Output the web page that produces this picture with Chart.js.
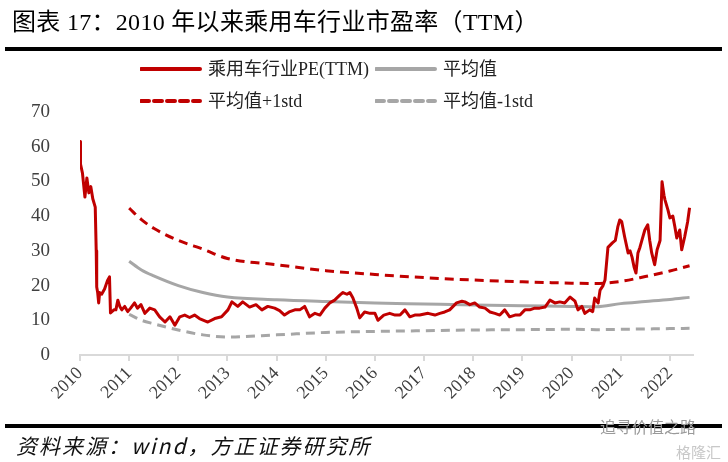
<!DOCTYPE html>
<html>
<head>
<meta charset="utf-8">
<script src="https://cdn.jsdelivr.net/npm/chart.js@4.4.1/dist/chart.umd.min.js"></script>
<style>
  html, body { margin: 0; padding: 0; background: #fff; }
  #wrap { position: relative; width: 728px; height: 462px; overflow: hidden; }
  #chart { position: absolute; left: 0; top: 0; }
  .serif { font-family: "Liberation Serif", "Noto Sans CJK SC", serif; }
  #title { position: absolute; left: 12px; top: 2px; font-size: 24px; color: #000; white-space: nowrap; letter-spacing: 0.3px; }
  .rule { position: absolute; left: 5px; width: 717px; height: 4px; background: #000; }
  .leg { position: absolute; font-size: 18px; color: #222; white-space: nowrap; line-height: 20px; }
  .leg svg { position: absolute; }
  #source { position: absolute; left: 16px; top: 430px; font-size: 21px; font-style: italic; color: #111;
            letter-spacing: 2px; font-family: "Noto Sans CJK SC", sans-serif; white-space: nowrap; }
  #wm1 { position: absolute; left: 600px; top: 414px; font-size: 16px; color: #9a9a9a;
         font-family: "Noto Sans CJK SC", sans-serif; white-space: nowrap; }
  #wm2 { position: absolute; left: 676px; top: 441px; font-size: 15px; color: #c8c8c8;
         font-family: "Noto Sans CJK SC", sans-serif; white-space: nowrap; }
</style>
</head>
<body>
<div id="wrap">
  <canvas id="chart" width="728" height="462"></canvas>
  <div id="title" class="serif">图表 17：2010 年以来乘用车行业市盈率（TTM）</div>
  <div class="rule" style="top:47px"></div>
  <div id="legend"></div>
  <div class="rule" style="top:424px"></div>
  <div id="source">资料来源：wind，方正证券研究所</div>
  <div id="wm1">追寻价值之路</div>
  <div id="wm2">格隆汇</div>
</div>
<script>
// 乘用车行业PE(TTM): dates as decimal years
const peDates = [
  2010.00, 2010.01, 2010.05, 2010.10, 2010.14, 2010.18, 2010.22, 2010.26, 2010.31, 2010.33,
  2010.34, 2010.36, 2010.38, 2010.40, 2010.44, 2010.50, 2010.56, 2010.60, 2010.62, 2010.69,
  2010.73, 2010.77, 2010.81, 2010.85, 2010.91, 2010.97, 2011.03, 2011.11, 2011.17, 2011.24,
  2011.32, 2011.42, 2011.52, 2011.62, 2011.73, 2011.83, 2011.93, 2012.03, 2012.13, 2012.23,
  2012.33, 2012.43, 2012.60, 2012.74, 2012.88, 2013.01, 2013.09, 2013.21, 2013.31, 2013.45,
  2013.58, 2013.70, 2013.82, 2013.96, 2014.06, 2014.16, 2014.27, 2014.37, 2014.47, 2014.57,
  2014.67, 2014.78, 2014.88, 2014.98, 2015.08, 2015.18, 2015.29, 2015.35, 2015.43, 2015.49,
  2015.55, 2015.59, 2015.63, 2015.69, 2015.79, 2015.90, 2016.00, 2016.06, 2016.18, 2016.30,
  2016.41, 2016.51, 2016.61, 2016.71, 2016.81, 2016.91, 2017.08, 2017.22, 2017.32, 2017.42,
  2017.52, 2017.66, 2017.77, 2017.83, 2017.93, 2018.03, 2018.13, 2018.24, 2018.34, 2018.44,
  2018.54, 2018.64, 2018.74, 2018.85, 2018.95, 2019.05, 2019.15, 2019.25, 2019.35, 2019.46,
  2019.56, 2019.66, 2019.76, 2019.86, 2019.97, 2020.07, 2020.13, 2020.21, 2020.27, 2020.37,
  2020.43, 2020.47, 2020.54, 2020.58, 2020.64, 2020.68, 2020.74, 2020.83, 2020.89, 2020.94,
  2020.98, 2021.02, 2021.08, 2021.15, 2021.19, 2021.23, 2021.27, 2021.31, 2021.35, 2021.39,
  2021.43, 2021.49, 2021.55, 2021.59, 2021.63, 2021.69, 2021.74, 2021.80, 2021.84, 2021.88,
  2021.90, 2021.96, 2022.00, 2022.06, 2022.10, 2022.14, 2022.20, 2022.24, 2022.30, 2022.36,
  2022.40
];
const peValues = [
  61.5, 55.0, 52.4, 45.5, 51.0, 46.7, 48.5, 45.0, 42.6, 30.0,
  19.6, 17.9, 15.0, 18.0, 17.5, 19.0, 21.5, 22.5, 12.1, 13.0,
  13.0, 15.8, 14.0, 13.0, 14.0, 12.5, 13.5, 15.0, 13.5, 14.5,
  12.0, 13.5, 13.0, 11.0, 9.5, 11.0, 8.6, 11.0, 11.5, 10.8,
  11.5, 10.5, 9.5, 10.5, 11.0, 13.0, 15.3, 14.0, 15.3, 13.8,
  14.5, 13.0, 14.0, 13.5, 12.8, 11.5, 12.5, 13.0, 13.0, 14.0,
  11.0, 12.0, 11.5, 13.5, 15.0, 15.8, 17.3, 18.0, 17.5, 18.0,
  16.5, 15.0, 13.5, 10.7, 12.4, 12.0, 12.0, 10.0, 11.5, 12.0,
  11.5, 11.5, 13.0, 11.0, 11.5, 11.5, 12.0, 11.5, 12.0, 12.4,
  13.0, 15.0, 15.5, 15.3, 14.5, 15.0, 13.8, 13.5, 12.4, 12.0,
  11.5, 13.0, 11.0, 11.5, 11.5, 13.0, 13.0, 13.5, 13.5, 13.8,
  15.8, 15.0, 15.3, 15.0, 16.7, 15.5, 13.0, 14.0, 12.0, 13.0,
  12.5, 16.4, 15.0, 18.7, 20.0, 21.6, 31.0, 32.3, 33.0, 36.9,
  38.9, 38.4, 34.0, 29.4, 30.0, 28.2, 25.4, 23.6, 29.4, 31.0,
  33.0, 36.0, 37.5, 33.0, 29.4, 26.0, 30.3, 33.0, 49.9, 46.0,
  44.7, 41.8, 39.5, 40.0, 37.0, 33.7, 36.0, 30.3, 34.0, 38.3,
  42.4
];

// 平均值 / ±1std (from 2011)
const bandDates  = [2011.0, 2011.25, 2011.5, 2012.0, 2012.5, 2013.0, 2014.0, 2015.0, 2016.0,
                    2017.0, 2018.0, 2019.0, 2020.0, 2020.5, 2021.0, 2021.5, 2022.0, 2022.4];
const meanValues = [27.0, 24.5, 22.8, 20.0, 18.0, 16.7, 15.9, 15.4, 15.0,
                    14.7, 14.4, 14.2, 14.0, 13.9, 14.8, 15.4, 16.0, 16.6];
const upperValues = [42.3, 39.0, 36.5, 33.0, 30.5, 27.8, 26.0, 24.3, 23.2,
                     22.3, 21.6, 21.1, 20.7, 20.6, 21.2, 22.6, 24.2, 25.7];
const lowerValues = [11.7, 10.0, 9.0, 7.2, 5.8, 5.2, 5.8, 6.5, 6.8,
                     7.0, 7.2, 7.3, 7.4, 7.3, 7.4, 7.5, 7.6, 7.7];

const yearTicks = [2010, 2011, 2012, 2013, 2014, 2015, 2016, 2017, 2018, 2019, 2020, 2021, 2022];
const xMin = 2010, xMax = 2022.47;

const seriesNames = ['乘用车行业PE(TTM)', '平均值', '平均值+1std', '平均值-1std'];

const RED = '#C00000';
const GREY = '#A6A6A6';
const SERIF = '"Liberation Serif", "Times New Roman", serif';

const toPoints = (xs, ys) => xs.map((x, i) => ({ x, y: ys[i] }));

// HTML legend, two rows of two
const legendItems = [
  { name: seriesNames[0], color: RED,  dash: '',    left: 140, top: 59 },
  { name: seriesNames[1], color: GREY, dash: '',    left: 375, top: 59 },
  { name: seriesNames[2], color: RED,  dash: '8 5', left: 140, top: 91 },
  { name: seriesNames[3], color: GREY, dash: '8 5', left: 375, top: 91 },
];
const legendEl = document.getElementById('legend');
legendItems.forEach(it => {
  const d = document.createElement('div');
  d.className = 'leg serif';
  d.style.left = it.left + 'px';
  d.style.top = it.top + 'px';
  d.innerHTML =
    `<svg width="62" height="20" style="left:0;top:0">` +
    `<line x1="1" y1="10" x2="60" y2="10" stroke="${it.color}" stroke-width="4" stroke-linecap="round"` +
    (it.dash ? ` stroke-dasharray="${it.dash}"` : '') + `/></svg>` +
    `<span style="margin-left:68px">${it.name}</span>`;
  legendEl.appendChild(d);
});

const lineBase = { pointRadius: 0, fill: false, borderWidth: 3 };

new Chart(document.getElementById('chart'), {
  type: 'line',
  data: {
    datasets: [
      { ...lineBase, label: seriesNames[0], data: toPoints(peDates, peValues),
        borderColor: RED, tension: 0, borderJoinStyle: 'round', order: 0 },
      { ...lineBase, label: seriesNames[1], data: toPoints(bandDates, meanValues),
        borderColor: GREY, cubicInterpolationMode: 'monotone', order: 1 },
      { ...lineBase, label: seriesNames[2], data: toPoints(bandDates, upperValues),
        borderColor: RED, borderDash: [9, 6], cubicInterpolationMode: 'monotone', order: 1 },
      { ...lineBase, label: seriesNames[3], data: toPoints(bandDates, lowerValues),
        borderColor: GREY, borderDash: [9, 6], cubicInterpolationMode: 'monotone', order: 2 },
    ],
  },
  options: {
    responsive: false,
    animation: false,
    layout: { padding: { top: 112, right: 35, bottom: 42, left: 0 } },
    plugins: { legend: { display: false }, tooltip: { enabled: false } },
    scales: {
      x: {
        type: 'linear',
        min: xMin,
        max: xMax,
        afterBuildTicks: (scale) => { scale.ticks = yearTicks.map(v => ({ value: v })); },
        afterFit: (scale) => { scale.height = 65; },
        grid: { drawOnChartArea: false, drawTicks: true, tickLength: 6, color: '#D9D9D9', lineWidth: 2 },
        border: { display: true, color: '#D9D9D9', width: 2 },
        ticks: {
          autoSkip: false,
          minRotation: 45,
          maxRotation: 45,
          padding: 2,
          color: '#404040',
          font: { family: SERIF, size: 18 },
          callback: (v) => String(v),
        },
      },
      y: {
        min: 0,
        max: 70,
        afterFit: (scale) => { scale.width = 80; },
        grid: { display: false },
        border: { display: false },
        ticks: {
          stepSize: 10,
          padding: 22,
          color: '#404040',
          font: { family: SERIF, size: 19 },
        },
      },
    },
  },
});
</script>
</body>
</html>
